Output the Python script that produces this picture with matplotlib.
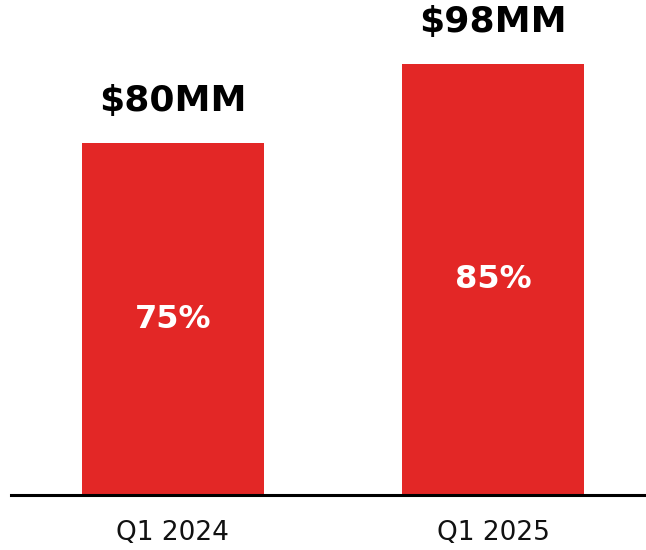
import numpy as np
import matplotlib
matplotlib.use("Agg")
import matplotlib.pyplot as plt

# chart data
quarters = ["Q1 2024", "Q1 2025"]
revenue = [80, 98]
revenue_labels = ["$80MM", "$98MM"]
share_labels = ["75%", "85%"]

barColor = "#E32726"

fig = plt.figure(figsize=(6.46, 5.5), dpi=100)
ax = fig.add_axes([0.017, 0.1, 0.983, 0.9])

x = np.arange(len(quarters))
bars = ax.bar(x, revenue, width=0.57, color=barColor)

# value labels above bars and share labels inside
for bar, top, inner in zip(bars, revenue_labels, share_labels):
    cx = bar.get_x() + bar.get_width() / 2
    h = bar.get_height()
    ax.annotate(top, (cx, h), xytext=(0, 18), textcoords="offset points",
                ha="center", va="bottom", fontsize=26, fontweight="bold",
                color="black")
    ax.text(cx, h / 2, inner, ha="center", va="center", fontsize=23,
            fontweight="bold", color="white")

ax.set_xlim(-0.506, 1.478)
ax.set_ylim(0, 112.5)
ax.set_xticks(x)
ax.set_xticklabels(quarters, fontsize=19, color="#111111")
ax.tick_params(axis="x", length=0, pad=18)
ax.set_yticks([])

for side in ["top", "right", "left"]:
    ax.spines[side].set_visible(False)
ax.spines["bottom"].set_linewidth(2.2)
ax.spines["bottom"].set_color("black")

fig.savefig("out.png", dpi=100)
